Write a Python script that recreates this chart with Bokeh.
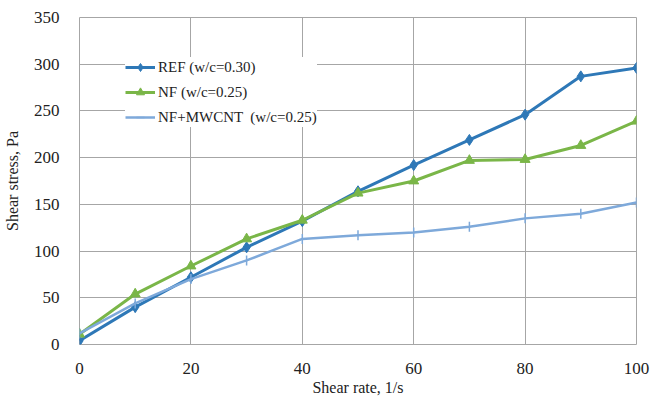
from bokeh.plotting import figure
from bokeh.models import Legend, LegendItem, FixedTicker, Range1d
from bokeh.embed import file_html
from bokeh.resources import INLINE

shear_rate = [0, 10, 20, 30, 40, 50, 60, 70, 80, 90, 100]
ref_stress = [4, 40, 72, 104, 132, 164, 192, 219, 246, 287, 296]
nf_stress = [11, 54, 84, 113, 133, 162, 175, 197, 198, 213, 239]
mwcnt_stress = [12, 44, 70, 90, 113, 117, 120, 126, 135, 140, 152]

x_ticks = [0, 20, 40, 60, 80, 100]
y_ticks = [0, 50, 100, 150, 200, 250, 300, 350]
labels = ["REF (w/c=0.30)", "NF (w/c=0.25)", "NF+MWCNT  (w/c=0.25)"]

FONT = "'Liberation Serif', 'Times New Roman', serif"
C_REF = "#2E78B7"
C_NF = "#7AB648"
C_MW = "#7EA9DA"

p = figure(width=651, height=398, output_backend="svg", toolbar_location=None,
           x_range=Range1d(0, 100), y_range=Range1d(0, 350),
           min_border_left=79, min_border_right=15, min_border_top=17, min_border_bottom=52)

p.outline_line_color = "#A6A6A6"
p.outline_line_width = 1
p.background_fill_color = "white"
p.border_fill_color = "white"

for ax in (p.xaxis[0], p.yaxis[0]):
    ax.axis_line_color = None
    ax.major_tick_line_color = None
    ax.minor_tick_line_color = None
    ax.major_label_text_font = FONT
    ax.major_label_text_font_size = "17px"
    ax.major_label_text_color = "#222222"
    ax.axis_label_text_font = FONT
    ax.axis_label_text_font_size = "16px"
    ax.axis_label_text_font_style = "normal"
    ax.axis_label_text_color = "#222222"

p.xaxis.ticker = FixedTicker(ticks=x_ticks)
p.yaxis.ticker = FixedTicker(ticks=y_ticks)
p.xaxis.major_label_standoff = 12
p.yaxis.major_label_standoff = 14
p.xaxis.axis_label = "Shear rate, 1/s"
p.yaxis.axis_label = "Shear stress, Pa"
p.xaxis.axis_label_standoff = 2
p.yaxis.axis_label_standoff = 10

p.xgrid.ticker = FixedTicker(ticks=x_ticks)
p.ygrid.ticker = FixedTicker(ticks=y_ticks)
p.xgrid.grid_line_color = "#A6A6A6"
p.ygrid.grid_line_color = "#A6A6A6"

r1 = p.line(shear_rate, ref_stress, line_color=C_REF, line_width=3)
m1 = p.scatter(shear_rate, ref_stress, marker="diamond", size=11, fill_color=C_REF, line_color=C_REF)
r2 = p.line(shear_rate, nf_stress, line_color=C_NF, line_width=3)
m2 = p.scatter(shear_rate, nf_stress, marker="triangle", size=10, fill_color=C_NF, line_color=C_NF)
r3 = p.line(shear_rate, mwcnt_stress, line_color=C_MW, line_width=2.5)
m3 = p.scatter(shear_rate, mwcnt_stress, marker="dash", angle=1.5708, size=10, line_color=C_MW, line_width=1.5)

legend = Legend(items=[LegendItem(label=labels[0], renderers=[r1, m1]),
                       LegendItem(label=labels[1], renderers=[r2, m2]),
                       LegendItem(label=labels[2], renderers=[r3, m3])],
                location=(46, 217))
legend.border_line_color = None
legend.background_fill_color = "white"
legend.background_fill_alpha = 1.0
legend.label_text_font = FONT
legend.label_text_font_size = "15px"
legend.label_text_color = "#222222"
legend.glyph_width = 30
legend.glyph_height = 20
legend.label_height = 20
legend.spacing = 5
legend.padding = 5
legend.margin = 0
legend.label_standoff = 3
p.add_layout(legend)

open("out.html", "w").write(file_html(p, INLINE))
